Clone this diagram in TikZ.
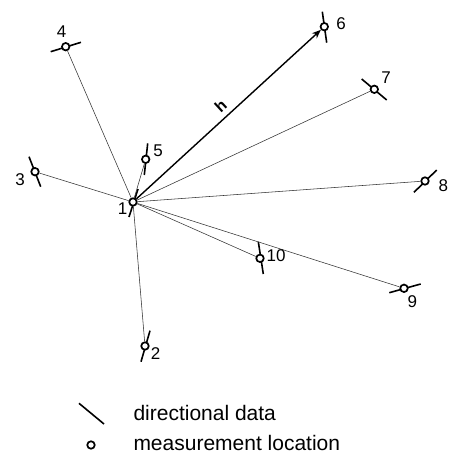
\documentclass[tikz,border=0pt]{standalone}
\usepackage{fontspec}
\setmainfont{Liberation Sans}
\usetikzlibrary{arrows.meta,calc}
\begin{document}
\begin{tikzpicture}[x=1pt,y=-1pt,
  loc/.style={circle,draw,fill=white,line width=1.7pt,inner sep=0pt,minimum size=7.5pt},
  dirline/.style={line width=1.6pt},
  ray/.style={line width=0.55pt,black!80},
  lbl/.style={font=\fontsize{17}{20}\selectfont,inner sep=0pt},
  legtext/.style={font=\fontsize{21}{24}\selectfont,inner sep=0pt,anchor=base west}]
\useasboundingbox (0,0) rectangle (451,455);
% measurement positions
\coordinate (c1) at (133,202);
\coordinate (c2) at (145,346);
\coordinate (c3) at (35,171.7);
\coordinate (c4) at (65.7,46.7);
\coordinate (c5) at (145.7,159.3);
\coordinate (c6) at (324.3,26.7);
\coordinate (c7) at (374.3,89.3);
\coordinate (c8) at (425,181);
\coordinate (c9) at (404,288.3);
\coordinate (c10) at (260,258.3);
% directional data
\draw[dirline] ($(c1)+(-4,15)$) -- ($(c1)+(5,-13)$);
\draw[dirline] ($(c2)+(5,-15.3)$) -- ($(c2)+(-4,15.7)$);
\draw[dirline] ($(c3)+(-6,-15)$) -- ($(c3)+(5.7,15)$);
\draw[dirline] ($(c4)+(-15,5)$) -- ($(c4)+(15.3,-4.4)$);
\draw[dirline] ($(c5)+(2,-16)$) -- ($(c5)+(-1.4,15.7)$);
\draw[dirline] ($(c6)+(-2,-15)$) -- ($(c6)+(2.4,16)$);
\draw[dirline] ($(c7)+(-12.6,-10.3)$) -- ($(c7)+(12.4,10.7)$);
\draw[dirline] ($(c8)+(-11,11.3)$) -- ($(c8)+(11.7,-11)$);
\draw[dirline] ($(c9)+(-14.7,4.4)$) -- ($(c9)+(16.7,-4.3)$);
\draw[dirline] ($(c10)+(-1.7,-16.6)$) -- ($(c10)+(3.3,15.7)$);
% locations
\foreach \i in {1,...,10} {\node[loc] (p\i) at (c\i) {};}
% rays
\foreach \i in {2,3,4,5,7,8,9,10} {\draw[ray] (p1) -- (p\i);}
\draw[line width=1.4pt,-{Stealth[length=9pt,width=7pt]}] (p1) -- (p6)
  node[pos=0.5,sloped,above=2pt,font=\fontsize{16}{18}\selectfont\bfseries] (h) {h};
% labels
\node[lbl] (l1) at (122.7,208.3) {1};
\node[lbl] (l2) at (155.7,354) {2};
\node[lbl] (l3) at (20,180) {3};
\node[lbl] (l4) at (61.7,31.7) {4};
\node[lbl] (l5) at (158,150.7) {5};
\node[lbl] (l6) at (341,23.3) {6};
\node[lbl] (l7) at (386,77.3) {7};
\node[lbl] (l8) at (443.3,185.7) {8};
\node[lbl] (l9) at (412.3,301.7) {9};
\node[lbl] (l10) at (276,256) {10};
% legend
\coordinate (la) at (79,403.3);
\coordinate (lb) at (104,424);
\draw[dirline] (la) -- (lb);
\node[loc] (leg) at (91,445) {};
\node[legtext] (t1) at (133.3,420.7) {directional data};
\node[legtext] (t2) at (133.3,450.5) {measurement location};
\end{tikzpicture}
\end{document}
